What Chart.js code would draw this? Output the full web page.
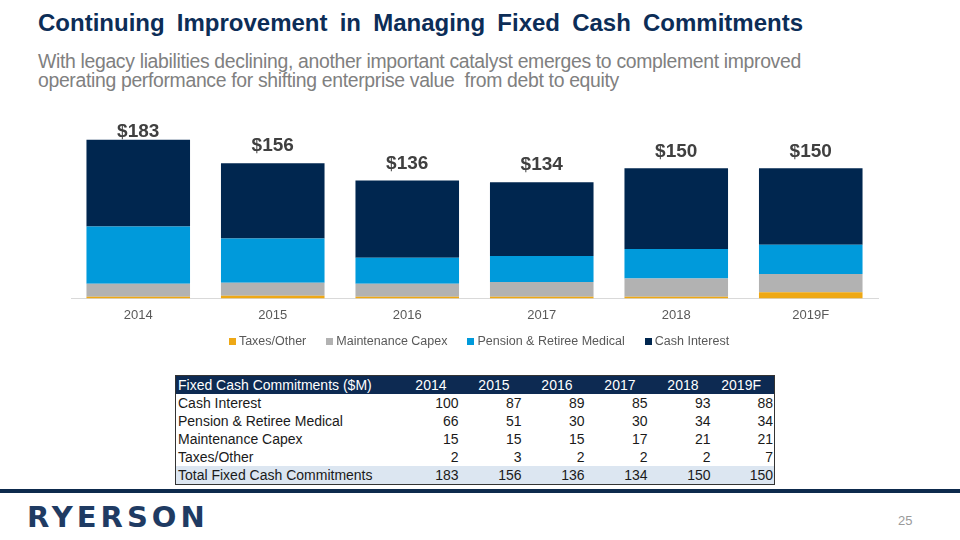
<!DOCTYPE html>
<html lang="en">
<head>
    <meta charset="UTF-8">
    <title>Fixed Cash Commitments</title>
    <script src="https://cdn.jsdelivr.net/npm/chart.js"></script>
    <style>
        body { margin: 0; background: #fff; font-family: "Liberation Sans", Arial, sans-serif; }
        #slide { position: relative; width: 960px; height: 540px; overflow: hidden; }
        #title { position: absolute; left: 38px; top: 9px; font-size: 24px; font-weight: bold; color: #0C2D57; word-spacing: 5.5px; white-space: nowrap; }
        #subtitle { position: absolute; left: 38px; top: 52px; font-size: 19.4px; line-height: 19px; color: #808080; letter-spacing: -0.33px; width: 790px; }
        #chartBox { position: absolute; left: 0; top: 100px; width: 960px; height: 239px; }
        #legend { position: absolute; left: 0; top: 333px; width: 958px; display: flex; justify-content: center; font-size: 12.5px; color: #595959; line-height: 16px; }
        #legend span.item { display: flex; align-items: center; margin: 0 10px; white-space: nowrap; }
        #legend span.box { display: inline-block; width: 7px; height: 7px; margin-right: 3px; }
        #tbl { position: absolute; left: 175px; top: 375px; width: 599px; table-layout: fixed; border-collapse: collapse; border: 1px solid #333; font-size: 14px; color: #1a1a1a; }
        #tbl td { height: 18px; padding: 0 1px 0 2px; line-height: 18px; white-space: nowrap; overflow: hidden; }
        #tbl tr.head td { background: #0D2A52; color: #fff; }
        #tbl tr.total td { background: #DCE6F1; }
        #bottomLine { position: absolute; left: 0; top: 489px; width: 960px; height: 4px; background: #0D2A4D; }
        #logo { position: absolute; left: 27px; top: 500px; font-family: "DejaVu Sans", sans-serif; font-weight: bold; font-size: 29px; letter-spacing: 4px; color: #1F3B63; }
        #pageNum { position: absolute; left: 898px; top: 513px; font-size: 13px; color: #9a9a9a; }
    </style>
</head>
<body>
<div id="slide">
    <div id="title">Continuing Improvement in Managing Fixed Cash Commitments</div>
    <div id="subtitle">With legacy liabilities declining, another important catalyst emerges to complement improved operating performance for shifting enterprise value&nbsp; from debt to equity</div>
    <div id="chartBox"><canvas id="fixedCash"></canvas></div>
    <div id="legend"></div>
    <table id="tbl"></table>
    <div id="bottomLine"></div>
    <div id="logo">RYERSON</div>
    <div id="pageNum">25</div>
</div>

<script>
    // Chart values ($M)
    const years = ['2014', '2015', '2016', '2017', '2018', '2019F'];
    const cashInterest = [100, 87, 89, 85, 93, 88];
    const pensionRetiree = [66, 51, 30, 30, 34, 34];
    const maintenanceCapex = [15, 15, 15, 17, 21, 21];
    const taxesOther = [2, 3, 2, 2, 2, 7];
    const totals = [183, 156, 136, 134, 150, 150];

    // Stacked from the bottom up, legend follows the same order
    const seriesList = [
        { label: 'Taxes/Other', data: taxesOther, color: '#EEA815' },
        { label: 'Maintenance Capex', data: maintenanceCapex, color: '#B2B2B2' },
        { label: 'Pension & Retiree Medical', data: pensionRetiree, color: '#009ADB' },
        { label: 'Cash Interest', data: cashInterest, color: '#00264F' }
    ];

    // Total labels above each stack
    const totalLabels = {
        id: 'totalLabels',
        afterDatasetsDraw(chart) {
            const ctx = chart.ctx;
            const topMeta = chart.getDatasetMeta(chart.data.datasets.length - 1);
            ctx.save();
            ctx.font = 'bold 19px "Liberation Sans", Arial, sans-serif';
            ctx.fillStyle = '#404040';
            ctx.textAlign = 'center';
            ctx.textBaseline = 'middle';
            topMeta.data.forEach((bar, i) => {
                const y = Math.max(bar.y - 17, chart.chartArea.top + 7);
                ctx.fillText('$' + totals[i], bar.x, y);
            });
            ctx.restore();
        }
    };

    const ctx = document.getElementById('fixedCash').getContext('2d');
    const chart = new Chart(ctx, {
        type: 'bar',
        data: {
            labels: years,
            datasets: seriesList.map(s => ({
                label: s.label,
                data: s.data,
                backgroundColor: s.color,
                borderWidth: 0,
                barPercentage: 0.77,
                categoryPercentage: 1.0
            }))
        },
        options: {
            responsive: true,
            maintainAspectRatio: false,
            animation: false,
            layout: { padding: { left: 71, right: 82, top: 25, bottom: 7 } },
            plugins: {
                legend: { display: false },
                tooltip: { enabled: false }
            },
            scales: {
                x: {
                    stacked: true,
                    grid: { display: false, drawTicks: false },
                    border: { color: '#D9D9D9' },
                    ticks: { padding: 9, color: '#595959', font: { family: '"Liberation Sans", Arial, sans-serif', size: 13 } }
                },
                y: {
                    stacked: true,
                    display: false,
                    min: 0,
                    max: 200
                }
            }
        },
        plugins: [totalLabels]
    });

    // Legend below the axis, same order as the stack
    const legendDiv = document.getElementById('legend');
    chart.data.datasets.forEach(ds => {
        const item = document.createElement('span');
        item.className = 'item';
        item.innerHTML = '<span class="box" style="background:' + ds.backgroundColor + '"></span>';
        item.appendChild(document.createTextNode(ds.label));
        legendDiv.appendChild(item);
    });

    // Data table under the chart
    const tableRows = [
        ['Cash Interest', cashInterest],
        ['Pension & Retiree Medical', pensionRetiree],
        ['Maintenance Capex', maintenanceCapex],
        ['Taxes/Other', taxesOther]
    ];
    const tbl = document.getElementById('tbl');
    let html = '<colgroup><col style="width:221px">';
    years.forEach(() => { html += '<col style="width:63px">'; });
    html += '</colgroup><tr class="head"><td>Fixed Cash Commitments ($M)</td>';
    years.forEach(y => { html += '<td style="text-align:right;padding-right:13px">' + y + '</td>'; });
    html += '</tr>';
    tableRows.forEach(r => {
        html += '<tr><td>' + r[0].replace('&', '&amp;') + '</td>';
        r[1].forEach(v => { html += '<td style="text-align:right">' + v + '</td>'; });
        html += '</tr>';
    });
    html += '<tr class="total"><td>Total Fixed Cash Commitments</td>';
    totals.forEach(v => { html += '<td style="text-align:right">' + v + '</td>'; });
    html += '</tr>';
    tbl.innerHTML = html;
</script>
</body>
</html>
